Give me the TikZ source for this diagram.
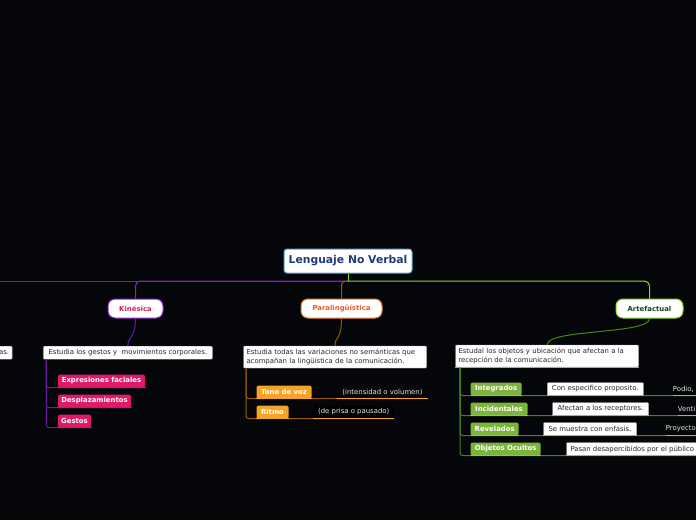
\documentclass[tikz,border=0pt]{standalone}
\usepackage{fontspec}
\setmainfont{DejaVu Sans}
\usepackage{xcolor}
\usetikzlibrary{positioning,calc}
\definecolor{bgc}{RGB}{5,6,9}
\definecolor{rootblue}{RGB}{90,160,215}
\definecolor{roottext}{RGB}{30,58,120}
\definecolor{leftblue}{RGB}{30,60,210}
\definecolor{kinpurple}{RGB}{140,35,210}
\definecolor{kindark}{RGB}{105,25,165}
\definecolor{kintext}{RGB}{225,30,90}
\definecolor{kinpink}{RGB}{225,25,105}
\definecolor{parorange}{RGB}{240,130,40}
\definecolor{pardark}{RGB}{150,90,15}
\definecolor{partext}{RGB}{240,90,40}
\definecolor{paritem}{RGB}{245,165,35}
\definecolor{artgreen}{RGB}{135,220,20}
\definecolor{artdark}{RGB}{70,135,15}
\definecolor{arttext}{RGB}{20,70,40}
\definecolor{artitem}{RGB}{125,180,60}
\definecolor{artbright}{RGB}{120,225,0}
\newcommand\mmfont{\fontsize{6.9}{8.4}\selectfont}
\tikzset{
	topic/.style={draw, fill=white, rounded corners=7pt, line width=1pt, inner sep=0pt,
		minimum height=19pt, font=\mmfont\bfseries},
	desc/.style={draw=gray!70, fill=white, rounded corners=1pt, inner sep=0pt,
		font=\mmfont, text=black!85},
	item/.style={rounded corners=1.5pt, inner sep=0pt, minimum height=13pt,
		text=white, font=\mmfont\bfseries},
	note/.style={inner sep=0pt, minimum height=13pt, font=\mmfont, text=gray!20},
	link/.style={line width=1pt},
	uline/.style={line width=1.2pt},
}
\begin{document}
\begin{tikzpicture}[x=1pt, y=-1pt]
				\useasboundingbox (0,0) rectangle (696,520);
				\fill[bgc] (0,0) rectangle (696,520);
				\clip (0,0) rectangle (696,520);
				% main topic and branches
				\node[draw=rootblue, fill=white, line width=1pt, rounded corners=3pt, minimum width=128pt, minimum height=24pt, inner sep=0pt, text=roottext, font=\fontsize{10.8}{12}\selectfont\bfseries] at (348,261) (root) {Lenguaje No Verbal};
				\node[topic, draw=kinpurple, text=kintext, minimum width=55pt] at (135.5,308.5) (kin) {Kinésica};
				\node[topic, draw=parorange, text=partext, minimum width=81pt] at (341.5,308.5) (par) {Paralingüística};
				\node[topic, draw=artgreen, text=arttext, minimum width=67pt] at (649.5,308.5) (art) {Artefactual};
				\coordinate (hub) at (348,281);
				\coordinate (offleft) at (-10,281);
				\coordinate (aright) at (700,0);
				% descriptions
				\node[desc, anchor=east, text width=28pt, align=right, inner xsep=3pt, minimum height=13pt] at (12.3,352.7) (ldesc) {as.};
				\node[desc, minimum width=169pt, minimum height=13pt] at (127.8,352.7) (kdesc) {Estudia los gestos y\ \ movimientos corporales.};
				\node[desc, minimum width=183pt, minimum height=22pt, text width=177pt, align=left] at (335,357) (pdesc) {Estudia todas las variaciones no semánticas que\\acompañan la lingüística de la comunicación.};
				\node[desc, minimum width=183pt, minimum height=22pt, text width=177pt, align=left] at (547,356) (adesc) {Estudal los objetos y ubicación que afectan a la\\recepción de la comunicación.};
				% Kinésica items
				\node[item, fill=kinpink, minimum width=87pt] at (101.5,381) (expr) {Expresiones faciales};
				\node[item, fill=kinpink, minimum width=73pt] at (94.5,401) (despl) {Desplazamientos};
				\node[item, fill=kinpink, minimum width=33pt] at (74.5,421) (gest) {Gestos};
				% Paralingüística items
				\node[item, fill=paritem, minimum width=55pt] at (284,392) (tono) {Tono de voz};
				\node[note, minimum width=91pt] at (382.5,392) (tononote) {(intensidad o volumen)};
				\node[item, fill=paritem, minimum width=32pt] at (272.5,412) (ritmo) {Ritmo};
				\node[note, fill=black, minimum width=81pt] at (353.7,412) (ritmonote) {(de prisa o pausado)};
				% Artefactual items
				\node[item, fill=artitem, minimum width=51pt] at (496.2,389) (integ) {Integrados};
				\node[desc, minimum width=96pt, minimum height=13pt] at (595.3,389) (integnote) {Con especifico proposito.};
				\node[note, anchor=west] at (672.7,389) (podio) {Podio,};
				\node[item, fill=artitem, minimum width=57pt] at (499,409) (incid) {Incidentales};
				\node[desc, minimum width=96pt, minimum height=13pt] at (600.5,409) (incidnote) {Afectan a los receptores.};
				\node[note, anchor=west] at (677.7,409) (venti) {Venti};
				\node[item, fill=artitem, minimum width=48pt] at (494.7,429) (revel) {Revelados};
				\node[desc, minimum width=93pt, minimum height=13pt] at (590,429) (revelnote) {Se muestra con enfasis.};
				\node[note, anchor=west] at (665.7,429) (proy) {Proyecto};
				\node[item, fill=artitem, minimum width=70pt] at (505.7,449) (ocult) {Objetos Ocultos};
				\node[desc, anchor=west, minimum height=13pt, inner xsep=4pt] at (566.3,449) (ocultnote) {Pasan desapercibidos por el público\hspace{6pt}};
				% top bar
				\draw[link, leftblue] (hub) -- (offleft);
				\draw[link, kinpurple, rounded corners=5pt] (hub) -| (kin.north);
				\draw[link, artgreen, rounded corners=5pt] (hub) -| (art.north);
				\draw[link, artgreen] (root.south) -- (hub);
				\draw[link, pardark, rounded corners=4pt] (hub) -| (par.north);
				% topic to description
				\draw[link, kindark] (kin.south) .. controls +(0,20) and +(0,-10) .. (kdesc.north);
				\draw[link, pardark] (par.south) .. controls +(0,22) and +(0,-10) .. (pdesc.north);
				\draw[link, artdark] (art.south) .. controls +(0,16) and +(0,-16) .. (adesc.north);
				\draw[uline, artbright] (adesc.south west) -- (adesc.south east);
				% Kinésica tree
				\coordinate (kspine) at (46.3,359.5);
				\foreach \n in {expr,despl,gest}
					\draw[link, kindark, rounded corners=3pt] (kspine) |- (\n.south east);
				\foreach \n in {expr,despl,gest}
					\draw[uline, kinpurple] ([xshift=-1pt]\n.south west) -- ([xshift=1pt]\n.south east);
				% Paralingüística tree
				\coordinate (pspine) at (246,368.5);
				\draw[link, pardark, rounded corners=3pt] (pspine) |- (tononote.south east);
				\draw[link, pardark, rounded corners=3pt] (pspine) |- (ritmonote.south east);
				\foreach \n in {tono,tononote,ritmo,ritmonote}
					\draw[uline, paritem] (\n.south west) -- (\n.south east);
				% Artefactual tree
				\coordinate (aspine) at (460,367.5);
				\foreach \n in {integ,incid,revel,ocult}
					\draw[link, artdark, rounded corners=3pt] (aspine) |- (\n.south -| aright);
				\foreach \n in {integ,integnote,incid,incidnote,revel,revelnote,ocult,ocultnote}
					\draw[uline, artbright] (\n.south west) -- (\n.south east);
				\foreach \n in {podio,venti,proy}
					\draw[uline, artbright] (\n.south west) -- (\n.south -| aright);
			\end{tikzpicture}
\end{document}
